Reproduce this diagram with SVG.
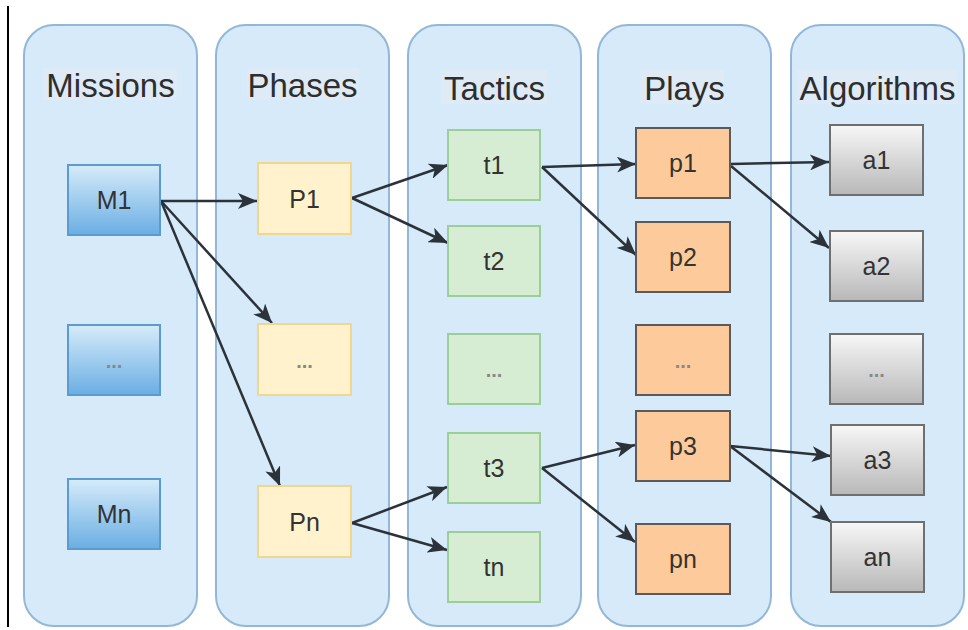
<svg xmlns="http://www.w3.org/2000/svg" width="968" height="630" viewBox="0 0 968 630">
<defs>
<linearGradient id="gBlue" x1="0" y1="0" x2="0" y2="1">
<stop offset="0" stop-color="#d6ebfa"/>
<stop offset="1" stop-color="#6aaee3"/>
</linearGradient>
<linearGradient id="gGray" x1="0" y1="0" x2="0" y2="1">
<stop offset="0" stop-color="#f7f7f7"/>
<stop offset="1" stop-color="#b8b8b8"/>
</linearGradient>
<marker id="arr" markerUnits="userSpaceOnUse" markerWidth="20" markerHeight="16" viewBox="0 0 20 16" refX="19" refY="8" orient="auto">
<path d="M0,0 L19,8 L0,16 L5,8 z" fill="#2b323a"/>
</marker>
<style>
.col{fill:#d7eaf9;stroke:#93b7d8;stroke-width:2}
.hdr{font-family:"Liberation Sans",Arial,sans-serif;font-size:33px;fill:#2e2e2e;text-anchor:middle}
.hbg{fill:#deebf6}
.lbl{font-family:"Liberation Sans",Arial,sans-serif;font-size:25px;fill:#333;text-anchor:middle}
.dots{font-family:"Liberation Sans",Arial,sans-serif;font-size:20px;font-weight:bold;fill:#888;text-anchor:middle}
.m{fill:url(#gBlue);stroke:#5b9bd0;stroke-width:2}
.ph{fill:#fff2cc;stroke:#f2d68f;stroke-width:2}
.t{fill:#d6edd4;stroke:#9ccf97;stroke-width:2}
.p{fill:#fdcb9b;stroke:#5a5a5a;stroke-width:2}
.a{fill:url(#gGray);stroke:#6f6f6f;stroke-width:2}
.e{fill:none;stroke:#2b323a;stroke-width:2.5;marker-end:url(#arr)}
</style>
</defs>
<rect width="968" height="630" fill="#ffffff"/>
<line x1="8" y1="6" x2="8" y2="627" stroke="#000" stroke-width="2"/>

<g id="col-missions">
<rect class="col" x="24" y="25" width="173" height="601" rx="30"/>
<rect class="hbg" x="43" y="68" width="134" height="32"/>
<text class="hdr" x="110.5" y="97">Missions</text>
</g>
<g id="col-phases">
<rect class="col" x="216" y="25" width="173" height="601" rx="30"/>
<rect class="hbg" x="247" y="68" width="112" height="32"/>
<text class="hdr" x="302.5" y="97">Phases</text>
</g>
<g id="col-tactics">
<rect class="col" x="408" y="25" width="173" height="601" rx="30"/>
<rect class="hbg" x="441" y="70" width="106" height="34"/>
<text class="hdr" x="494.5" y="100">Tactics</text>
</g>
<g id="col-plays">
<rect class="col" x="598" y="25" width="173" height="601" rx="30"/>
<rect class="hbg" x="640" y="70" width="84" height="34"/>
<text class="hdr" x="684.5" y="100">Plays</text>
</g>
<g id="col-algorithms">
<rect class="col" x="791" y="25" width="173" height="601" rx="30"/>
<rect class="hbg" x="797" y="70" width="161" height="34"/>
<text class="hdr" x="877.5" y="100">Algorithms</text>
</g>

<g id="edges">
<line class="e" x1="161" y1="201" x2="257" y2="201"/>
<line class="e" x1="161" y1="201" x2="272" y2="323"/>
<line class="e" x1="161" y1="201" x2="280" y2="486"/>
<line class="e" x1="352" y1="198" x2="448" y2="165"/>
<line class="e" x1="352" y1="198" x2="448" y2="243"/>
<line class="e" x1="352" y1="523" x2="447" y2="487"/>
<line class="e" x1="352" y1="523" x2="447" y2="550"/>
<line class="e" x1="542" y1="167" x2="636" y2="164"/>
<line class="e" x1="542" y1="167" x2="636" y2="255"/>
<line class="e" x1="542" y1="468" x2="635" y2="445"/>
<line class="e" x1="542" y1="468" x2="635" y2="542"/>
<line class="e" x1="731" y1="164" x2="829" y2="162"/>
<line class="e" x1="731" y1="166" x2="829" y2="248"/>
<line class="e" x1="730" y1="446" x2="831" y2="456"/>
<line class="e" x1="730" y1="446" x2="831" y2="522"/>
</g>

<g id="M1"><rect class="m" x="68" y="165" width="92" height="70"/><text class="lbl" x="114" y="209">M1</text></g>
<g id="Mdots"><rect class="m" x="68" y="325" width="92" height="70"/><text class="dots" x="114" y="368">...</text></g>
<g id="Mn"><rect class="m" x="68" y="479" width="92" height="70"/><text class="lbl" x="114" y="523">Mn</text></g>

<g id="P1"><rect class="ph" x="258" y="163" width="93" height="71"/><text class="lbl" x="304.5" y="208">P1</text></g>
<g id="Pdots"><rect class="ph" x="258" y="324" width="93" height="71"/><text class="dots" x="304.5" y="368">...</text></g>
<g id="Pn"><rect class="ph" x="258" y="486" width="93" height="71"/><text class="lbl" x="304.5" y="531">Pn</text></g>

<g id="t1"><rect class="t" x="448" y="130" width="92" height="70"/><text class="lbl" x="494" y="174">t1</text></g>
<g id="t2"><rect class="t" x="448" y="226" width="92" height="70"/><text class="lbl" x="494" y="270">t2</text></g>
<g id="tdots"><rect class="t" x="448" y="334" width="92" height="70"/><text class="dots" x="494" y="377">...</text></g>
<g id="t3"><rect class="t" x="448" y="433" width="92" height="70"/><text class="lbl" x="494" y="477">t3</text></g>
<g id="tn"><rect class="t" x="448" y="532" width="92" height="70"/><text class="lbl" x="494" y="576">tn</text></g>

<g id="p1"><rect class="p" x="636" y="128" width="94" height="70"/><text class="lbl" x="683" y="172">p1</text></g>
<g id="p2"><rect class="p" x="636" y="222" width="94" height="70"/><text class="lbl" x="683" y="266">p2</text></g>
<g id="pdots"><rect class="p" x="636" y="325" width="94" height="70"/><text class="dots" x="683" y="368">...</text></g>
<g id="p3"><rect class="p" x="636" y="411" width="94" height="70"/><text class="lbl" x="683" y="455">p3</text></g>
<g id="pn"><rect class="p" x="636" y="524" width="94" height="70"/><text class="lbl" x="683" y="568">pn</text></g>

<g id="a1"><rect class="a" x="830" y="125" width="93" height="70"/><text class="lbl" x="876.5" y="169">a1</text></g>
<g id="a2"><rect class="a" x="830" y="231" width="93" height="70"/><text class="lbl" x="876.5" y="275">a2</text></g>
<g id="adots"><rect class="a" x="830" y="334" width="93" height="70"/><text class="dots" x="876.5" y="377">...</text></g>
<g id="a3"><rect class="a" x="831" y="425" width="93" height="70"/><text class="lbl" x="877.5" y="469">a3</text></g>
<g id="an"><rect class="a" x="831" y="522" width="93" height="70"/><text class="lbl" x="877.5" y="566">an</text></g>
</svg>
